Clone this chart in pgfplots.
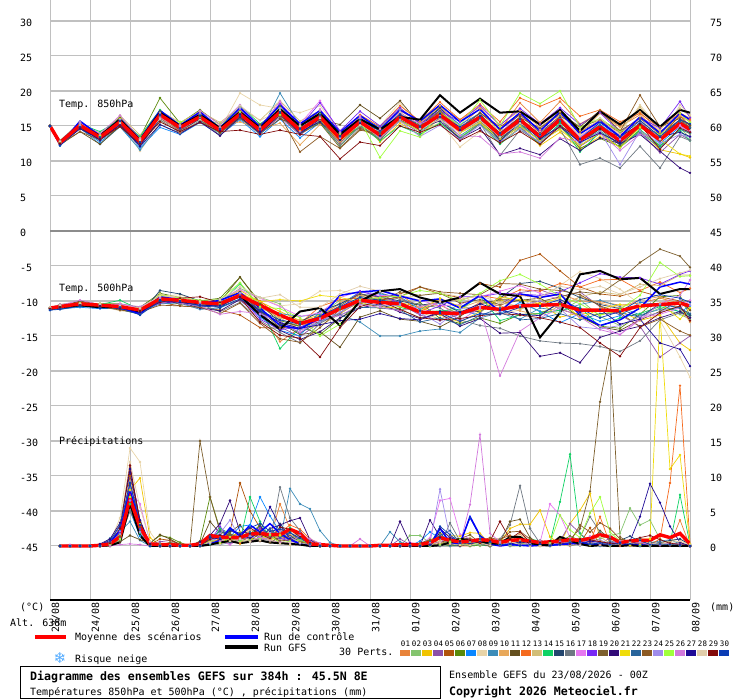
\documentclass[border=0pt]{standalone}
\usepackage{fontspec}
\usepackage{pgfplots}
\usepackage{pgfplotstable}
\pgfplotsset{compat=1.18}
\setmainfont{DejaVu Sans Mono}
\newfontfamily\djs{DejaVu Sans}
\definecolor{p1}{HTML}{E8833A}\definecolor{p2}{HTML}{84C46E}\definecolor{p3}{HTML}{F0C400}
\definecolor{p4}{HTML}{8C50A8}\definecolor{p5}{HTML}{B0540C}\definecolor{p6}{HTML}{5A8A0A}
\definecolor{p7}{HTML}{0A87FF}\definecolor{p8}{HTML}{E8D4A8}\definecolor{p9}{HTML}{3C8CB8}
\definecolor{p10}{HTML}{E8A85A}\definecolor{p11}{HTML}{644F1E}\definecolor{p12}{HTML}{F56A1E}
\definecolor{p13}{HTML}{D2BE78}\definecolor{p14}{HTML}{0FD264}\definecolor{p15}{HTML}{23466E}
\definecolor{p16}{HTML}{6E7882}\definecolor{p17}{HTML}{E678F0}\definecolor{p18}{HTML}{7828F5}
\definecolor{p19}{HTML}{7D5F2D}\definecolor{p20}{HTML}{320A78}\definecolor{p21}{HTML}{F0DC0A}
\definecolor{p22}{HTML}{28649B}\definecolor{p23}{HTML}{8C5A23}\definecolor{p24}{HTML}{A08CEB}
\definecolor{p25}{HTML}{A0FF3C}\definecolor{p26}{HTML}{D278DC}\definecolor{p27}{HTML}{1E0A96}
\definecolor{p28}{HTML}{E1CDAA}\definecolor{p29}{HTML}{820A0A}\definecolor{p30}{HTML}{0A3CB4}
\definecolor{gr}{HTML}{C0C0C0}
% 850 hPa, degC; columns at 0,6,18,30,...,378,384 h
\pgfplotstableread[header=false]{
15 12.4 15 13.5 15.8 12.5 16.2 14.3 16.8 14.9 17.3 14.6 17.6 13.9 15.7 12.5 15.4 14.4 17.2 15.5 17.8 15 17.5 14.4 18.3 15.5 18.5 15.3 16.9 14.9 16.6 14 16.3 15.8
15 12.8 15.3 13.2 15.2 12.2 15.8 14.2 15.8 14 16.4 14.9 16.6 13.8 16.1 13.7 16 14.2 16.6 14.2 15.4 13.4 15.3 13 15 13 14.8 12.2 14.1 12.4 14.9 13.9 14.7 13.3
15.1 12.9 15.5 13.8 16.2 13.2 17.2 15.1 16.9 14.8 17.2 14.7 17.6 15 17.2 14 15.9 12.7 15.4 13.7 16.1 13.2 15.5 12.6 14.8 12.2 14.1 11.7 13.5 12 14.3 11.6 11 10.5
15 12.5 14.6 13.1 15.2 12.4 16 14.2 16 14.3 16.2 13.9 16.3 13.7 15.8 12.6 15.2 13 15.8 14 16.2 14.1 15.7 13.2 14.9 12.4 15 12.1 13.9 12 14.1 11.2 13.8 13
15 12.6 15.2 13.6 15.7 13 16.9 15 16.6 14.7 17.1 15 17.5 15 16.6 13.1 14.8 13.1 15.9 14.5 16.7 14.8 16.9 14.9 16.7 14.4 16.7 14.2 15.8 14 15.8 13.4 16.5 15
15 12.7 15.4 13.9 16.2 13.4 19 15.4 17.3 15.2 17.6 15.1 17.8 14 15.6 12.9 15.3 14.1 16.9 15.1 17.2 14.1 15.8 13.1 15.4 12.8 15.2 11.8 13.2 12.1 14.4 12.1 14.6 13.9
15 12.2 14.7 12.7 14.9 11.9 14.8 13.8 15.5 13.7 15.9 13.5 16 13.3 15.5 13.4 16.3 14.8 17.3 15.7 17.4 15.2 16.8 13.5 15 13 15.7 13.5 15.2 13.3 15.4 12.5 14.9 14.1
15 12.9 15.6 14 15.9 11.4 15.5 14.9 16 14.5 19.7 18 17.5 16.9 17.9 14.3 16.3 15 18.4 14.1 15.5 12 14.2 12.9 15.4 13.8 16.5 13.6 15.4 14 18 14.6 16.8 16.2
15 12.2 14.7 12.4 14.9 11.6 15.2 14 15.6 14 16.2 14.1 19.7 15.1 16.4 13.7 15.1 13.2 15.8 14.3 15.9 13.6 15.5 12.8 15.2 12.9 15.2 12.6 14.3 12.3 14.1 11.9 14.5 14
15 12.7 15.3 13.2 15.5 12.9 16.3 14.6 16.7 14.9 15.6 14.5 15.4 12.3 15.2 13.5 16.4 14.6 17.5 15.4 17.9 15.9 17.7 15.2 17.2 14.8 17 13.9 16.8 14.8 17 14.2 16.5 15.6
15 12.3 14.2 12.4 15 12.9 17.1 15.2 16.5 14.1 16.3 13.9 16 15 15.9 15.2 18 16.1 18.6 15.2 17.6 14.6 15.9 14 16.3 13.1 15.6 12.5 14.6 12.3 14.8 13.3 15.9 15.1
15 12.5 15 13.3 15.8 13 16.3 14.8 16.8 14.7 16.9 14.3 16.9 14.7 16.5 13.8 16.6 14.9 17.9 15.7 18.4 15.9 18.1 15.6 19 17.8 19 16.4 17.3 15.6 16.8 14.7 16.9 16
15 12.8 15.2 13.5 16.5 13.7 17.2 15.5 17.1 15.5 17.7 15.8 18.6 15.7 17.2 13.9 16.2 13.8 16 14.9 16.4 14.2 16.6 14.3 15.8 14.5 16.7 14.4 15.7 14.4 17.7 14.5 17.5 16.4
15 12.6 15.3 14.2 15.9 13.5 17.3 14.9 16.5 14.8 17.9 15.3 17.3 14.1 15.5 12.2 15.1 12.9 15 13.8 15.4 13.3 15.3 12.4 14.7 12.4 15.4 11.3 14.1 11.9 14.5 12.2 14.4 12.9
15 12.9 15.4 13.7 16 12.9 17.1 14.7 16.3 14.2 17 15 18.1 14.5 16.9 13.6 15.9 14.2 16.9 14.9 17.6 14.7 16.8 13.2 15.6 13.2 16.3 12.7 14.6 12.9 15.4 13.2 15.7 14.7
15 12.4 14.8 13.1 15.2 12.3 15.9 14.1 15.8 13.7 16.1 13.8 16.7 14 15.7 12.2 14.9 13.4 16.2 14.6 16.3 12.9 15.4 10.8 14.4 12.7 14.6 9.5 10.4 9 12.1 9 13.5 12.9
15 12.5 15 13.4 15.9 12.6 16.7 15 16.6 14.8 16.8 14.5 18.3 15.3 18.6 14.1 16.1 14.5 17 14.7 17.3 14.9 16.4 14 16.7 14.2 16.2 13.4 15.7 13.1 15.5 13.1 15.1 14.2
15 12.7 15.5 13.4 15.7 13.1 16.4 14.5 16.2 14.3 17.4 14.7 18.1 14.9 18.3 14.3 17.1 15 17.6 15.3 17.2 15.6 17.9 15.1 17.5 15.3 17.6 15.2 16.9 14.1 16.2 14.7 18.5 16.2
15 12.4 14.9 12.9 15.3 12.7 16.4 14.4 15.9 14 16.1 14.1 16.5 13.9 15.4 11.9 14.6 13.5 16.6 14.8 17.2 14.5 16.4 14 16.2 14.7 16.8 14.9 17.2 14.3 16.1 13.8 15.9 14.8
15 12.3 14.6 13.1 15.1 12.1 15.2 13.9 15.6 13.6 16.3 14 16.6 14.2 15.6 13 15.2 13.9 16.2 14.8 15.7 13.2 14.7 10.9 11.8 10.9 13.2 11.5 13.3 12.5 13.8 11.4 9 8.3
15 12.6 15.1 13.7 16 13.3 16.9 15.2 16.7 14.7 16.8 14.6 16.9 14.4 15.9 12.8 15.3 13.3 15.7 14.3 16.5 14 15.5 13.1 15 12.9 14.5 12.2 14 11.9 14.8 13.1 11 10.7
15 12.5 14.9 13.5 15.6 12.7 16.5 14.7 16.4 14.5 16.6 14.3 16.7 14.9 16.2 14 15.7 14 16.4 14.7 16.7 14.3 16 13.5 15.9 13.7 15.7 13 15.1 12.5 15.6 12.9 15.6 14.8
15 12.4 14.2 13 14.9 12.5 16.1 14 16.2 14.1 16.4 15.2 16.5 11.3 13.5 11.8 14.4 13.9 16.4 14.9 17 14.6 16.9 14.5 16.6 14 16.4 14.8 15.9 14.2 19.4 14.9 16.1 15.2
15 12.7 15.3 13.7 15.9 13.2 16.8 15.1 16.8 14.8 17.5 14.8 17.5 15.2 17.2 13.4 15.5 13.3 15.7 13.5 15.1 13.1 15.1 12.7 14.6 12.7 15.1 12.5 14.2 9.5 14.3 12.5 13.8 13.4
15 12.6 15.4 13.6 15.4 13 16.2 15.6 16.1 15.3 17 14.9 16.6 15 16.7 13.9 15.8 10.5 14.3 13.4 16.9 15.1 18.7 15 19.7 18.2 20 14.8 16.1 14.2 15.2 13.7 16.8 15.5
15 12.8 15.4 13.9 16.5 13.2 16.2 14.7 17.2 15.2 18 14.9 18.5 14.2 17.4 14.1 16.4 13.4 16.8 15.3 16.4 13.6 13.5 11 11.3 10.4 13.3 12.8 14 11.5 13.8 13.2 14.9 14.2
15 12.3 14.8 13 15.3 12.2 16 14.1 16 14.4 16.7 14.2 16.9 13.9 16 13 15.4 13.6 16.6 14.4 16.8 14.4 16.4 12.9 15.5 13.2 14.9 12.7 14 12.6 15.3 13.5 14.1 13.5
15 12.8 15 13.3 15.4 13 16 14.1 15.9 14.7 17.9 15.8 17.2 15 16.1 13.3 15.1 14.3 16.9 14.6 15.9 14.1 15.8 13.4 15.4 13.8 16.2 13.7 16.1 13.7 16.4 13.1 18 16.6
15 12.5 14.8 13.2 14.9 12.5 15.6 14.2 15.5 14.2 14.4 13.8 14.4 13.8 13.5 10.3 12.7 12.2 15 14.1 15.2 12.9 14.3 12.6 14.2 12.4 15 13.2 14.6 13.5 15.2 11.7 14.7 14.1
15 12.2 14.9 13.4 15.7 12.7 16.6 14.7 16.5 14.6 16.4 14.6 17 14.6 16.6 13.5 15.9 14.3 16.7 14.9 16.3 14.9 16.4 14 16 13.8 16.2 13.2 15.5 13.4 15.8 13.5 15.9 15.3
15 12.3 15.7 13.6 16 13.1 17.2 15.1 17 14.7 17.6 14.9 18 15.3 17.2 14.1 16.5 14.5 17.3 15.7 18 15.6 17.4 14.5 16.9 14.3 17 13.9 15.7 13.5 16.3 14 16.8 15.9
15 12.7 15.1 13.6 15.9 13 16.9 15 16.6 14.7 17 14.7 17.4 15 16.8 13.8 16 14.5 16.3 15.9 19.4 16.9 18.9 16.9 17.1 15.2 17.3 14.3 17.1 15.2 17.3 14.9 17.3 16.9
15 12.6 15.1 13.4 15.6 12.8 16.6 14.8 16.3 14.4 16.7 14.4 17 14.4 16.3 13.2 15.6 13.7 16.3 14.7 16.6 14.4 16.3 13.7 15.9 13.5 15.9 13 14.9 12.9 15.1 13 15.4 14.5
}\rawA
% 500 hPa, degC; columns at 0,6,18,30,...,378,384 h
\pgfplotstableread[header=false]{
-11.2 -10.6 -10.2 -10.4 -10.5 -11.8 -9.4 -10 -10.3 -10.6 -9 -11.6 -15.8 -13.9 -12.1 -10.4 -9.2 -9.4 -9.1 -11 -10.6 -11.9 -10.2 -10.7 -9.2 -9.5 -9 -10 -10.1 -10.6 -10.3 -9.6 -10.3 -11.3
-11 -10.7 -10.4 -10.8 -10.7 -11.5 -10 -10.2 -10.5 -10.1 -8.2 -9.5 -10.4 -14 -11.9 -9.9 -9.5 -10.5 -11.2 -12.4 -11.8 -10.5 -11.7 -9.3 -10 -11.5 -11.6 -9.8 -12.2 -13.5 -12.2 -11 -11.9 -12.6
-11.1 -10.8 -10.4 -10.5 -10.9 -11 -9.2 -9.5 -9.9 -10 -8.5 -10.1 -11.5 -12.8 -12 -11.3 -10.4 -9.6 -10.2 -10.9 -12 -13 -11.5 -9.8 -11.1 -10.2 -12.3 -11.7 -12 -11.4 -12.8 -12 -16 -17
-11 -10.9 -10.5 -10.6 -10.7 -11.3 -9.7 -10.1 -10.6 -10.8 -9.9 -12.2 -13.7 -15.1 -13 -10.8 -9.9 -9.9 -10.5 -12 -12.8 -11.9 -11.4 -10.5 -8.8 -8.4 -9.4 -8.7 -10.8 -12 -13.6 -18 -16 -15
-11 -10.9 -10.6 -10.9 -11.1 -11.4 -10.2 -10.7 -10.9 -11.3 -12 -13.8 -13.9 -13.4 -13 -11.8 -10 -9.5 -9 -8 -9 -9.5 -7.5 -8 -4.2 -3.3 -5.7 -8 -9 -9.3 -8.6 -9.4 -10 -10
-11 -10.5 -10.2 -10.4 -10.4 -10.9 -8.9 -9.5 -10 -9.6 -6.6 -10.2 -12.8 -13.6 -14.8 -12.5 -10.4 -10.7 -11.4 -10.2 -12.5 -13.2 -12.4 -13.2 -11.9 -11.8 -10.4 -12.3 -13.6 -13.9 -11.9 -9.4 -9.2 -12.1
-11.3 -11.1 -10.9 -11.1 -11 -10.9 -9.4 -10.3 -9.9 -10.8 -9.3 -12.3 -14.2 -15 -11.4 -10.5 -8.7 -9 -9.4 -11.2 -10.3 -11.4 -12 -11.8 -10.2 -11.5 -13.1 -11.8 -12.9 -12.1 -10.2 -10.5 -11.6 -10.7
-11 -10.8 -10.6 -10.7 -11.4 -11.7 -9.3 -9.1 -10 -10.2 -8.9 -9.5 -10.7 -10.4 -8.6 -8.5 -9.1 -9.9 -9.6 -9.2 -8.8 -9.4 -10.3 -11.8 -11.3 -9.7 -7.8 -5.8 -6.8 -8.3 -10.5 -12.8 -18 -20.9
-11.2 -11.2 -10.8 -10.9 -11.1 -11.7 -10.4 -10.3 -11.2 -11 -9.8 -11.1 -11.8 -12.2 -11.9 -12 -13 -15 -15 -14.3 -14 -14.5 -12.4 -11.7 -12.6 -11 -11.4 -10.5 -9.9 -10.8 -12 -11.2 -11 -12.1
-11 -10.7 -10.5 -10.6 -10.6 -11.4 -9.8 -10.3 -10.3 -10.5 -9.3 -10.9 -12.4 -12.7 -12.4 -10.2 -9.1 -10.6 -11.4 -10.9 -9.8 -11 -10 -10.7 -11.4 -12.1 -10.7 -9.4 -10.3 -11 -9.8 -9.4 -11.1 -13
-11 -10.8 -10 -10.5 -10.8 -11.7 -9.5 -10.5 -9.9 -10.1 -6.6 -10.4 -13.1 -14.8 -14.4 -16.6 -12.3 -11.4 -12.6 -12.9 -13.7 -12.2 -10.4 -9.8 -9.9 -9.6 -11.2 -12 -13.7 -14.2 -12.7 -11.5 -9.9 -11.3
-11.1 -10.7 -10.3 -10.7 -11 -11.3 -9.8 -9.9 -10.4 -10.1 -9.2 -10 -12.3 -13.2 -10.8 -9.8 -9.6 -9.8 -9.5 -11.5 -10.1 -9.8 -9.2 -9.7 -8.4 -8.6 -7.5 -8 -7 -6.9 -8.5 -7.3 -8.8 -8.2
-10.9 -10.6 -10.3 -10.4 -10.5 -11.5 -9 -9.7 -10.2 -10.7 -9.8 -11.8 -12.4 -14.1 -13.5 -11.9 -9.7 -9.5 -10.4 -11.6 -12.6 -11.3 -11.5 -10.1 -11.2 -9.9 -11 -9.4 -8.7 -9.1 -7.6 -7.8 -6.3 -6.3
-11 -10.7 -10.6 -10.5 -9.9 -11.2 -9.9 -9.7 -10.6 -10.4 -7.5 -10.8 -16.8 -13.8 -13.1 -11 -10.2 -9.7 -10.9 -11.6 -11.4 -11.2 -9.3 -12.8 -12 -11.8 -11.3 -10.9 -13.7 -12.4 -11.8 -10.8 -11.5 -12.1
-11.3 -10.9 -10.6 -10.8 -11.2 -11.9 -8.5 -9 -10 -11 -8.7 -11.5 -13.4 -13 -11.5 -10.4 -9 -9.4 -10 -10.6 -10.2 -11.6 -11.5 -9.6 -7.5 -7.2 -8.2 -9.5 -10.5 -11.1 -12.3 -10.4 -11 -12
-11.1 -10.9 -10.5 -10.8 -11.1 -11.2 -9.7 -10.4 -10.5 -11.5 -10.2 -12.8 -14.5 -16 -13.2 -11.7 -9.4 -8.8 -9.8 -10.5 -11 -12.7 -13.5 -13.9 -15 -15.7 -16 -16.1 -16.5 -17.2 -15.7 -12.7 -11.7 -12.3
-11 -10.5 -10.3 -10.6 -10.4 -11 -9.4 -9.7 -10.2 -9.7 -8.4 -9.6 -10.8 -12.2 -11.7 -9.5 -8.6 -9.2 -9.3 -9.9 -10.7 -10.5 -9.4 -8.6 -7.8 -8.9 -9.8 -11.6 -13.6 -14.8 -12.4 -11.9 -11 -9.9
-11.1 -10.8 -10.4 -10.7 -10.9 -11.5 -10.3 -10.1 -10.3 -9.9 -9.3 -12.6 -14.1 -13.7 -12.7 -11.2 -8.6 -9.4 -10.2 -11.8 -10.7 -9.4 -9.4 -8.9 -9 -9.2 -8.7 -7.4 -6.1 -6.6 -6.7 -7.6 -6.2 -5.7
-11 -10.7 -10.5 -10.6 -10.8 -11.4 -9.9 -10.2 -10.6 -10.3 -9 -11.3 -13.8 -13.1 -12.2 -10.7 -8.9 -10 -8.7 -9.2 -8.9 -10.3 -9.8 -10.5 -9.9 -10.1 -9.4 -8.7 -9 -7 -4.5 -2.6 -3.6 -5.2
-11 -10.8 -10.7 -10.9 -10.9 -11.6 -10.1 -10.2 -11 -11.4 -9.8 -11.6 -14.2 -15.5 -14.4 -12.4 -11 -10.4 -11.6 -12.5 -11.8 -13.6 -12.5 -14.6 -14.5 -17.9 -17.4 -18.8 -15.2 -14.3 -13.6 -12.4 -11.5 -12.4
-11 -10.9 -10.4 -10.7 -10.8 -11 -9.6 -9.8 -10.1 -10.4 -8.9 -10.1 -9.8 -10 -9.2 -9.5 -10.1 -11.1 -10.8 -11.4 -9.6 -10.8 -11.4 -9.5 -9.8 -10.4 -9.6 -12.5 -11.1 -10.5 -11 -10.3 -12.6 -11
-11.2 -11.1 -10.7 -10.7 -11.2 -11.9 -9.9 -10.2 -10.8 -10.6 -9.4 -11.8 -12.9 -14.6 -12.9 -12 -10.9 -11 -11.3 -13 -12.4 -13.4 -12.1 -11 -12.7 -12.5 -11.8 -12.7 -11.8 -11.7 -12.3 -10.5 -11 -11.8
-11 -10.9 -10.7 -10.8 -11.3 -11.6 -10.6 -10.7 -10.9 -11.8 -10.3 -13.2 -15.4 -15.9 -13.8 -11.2 -10.3 -9.9 -9.4 -8 -8.7 -8.9 -9.1 -7.5 -7.6 -8.3 -8.5 -9.1 -10.7 -11.7 -13.7 -12.6 -14.3 -14.9
-11 -10.6 -10.5 -10.6 -10.8 -11.2 -9.6 -10.1 -10.5 -10 -8.9 -11.9 -13 -14.2 -13 -11.6 -10.1 -10.7 -10.6 -11.7 -13.3 -11.1 -10.8 -11.4 -10.6 -10 -11.1 -13.7 -14 -13.5 -12.2 -11.7 -9.9 -10.6
-11.1 -10.7 -10.3 -10.4 -10.7 -11.4 -9.2 -9.5 -9.9 -9.8 -7.4 -10.8 -11.1 -12.4 -15 -13.3 -9.8 -9.5 -9.3 -8.5 -8.9 -10 -8.9 -7.1 -6.2 -7.6 -9.3 -10.4 -12 -11.2 -9.2 -4.5 -6.5 -6.4
-11 -10.6 -9.9 -10.5 -10.5 -10.8 -9.5 -10.3 -10.7 -11.9 -11.5 -11.8 -13 -14.5 -12.6 -12.1 -10.5 -10.9 -11.4 -10.8 -10.2 -12.8 -11 -20.7 -14.3 -12.4 -11 -12.3 -14.1 -14.8 -12.7 -10.4 -9.2 -7
-11.1 -10.9 -10.5 -10.7 -11.1 -11.6 -9.9 -10.2 -10.6 -10.7 -9.4 -11.4 -13.1 -13.9 -13.4 -12.8 -12.6 -11.8 -12.5 -12.7 -11.5 -11.6 -10.4 -11.3 -11.9 -12.1 -10.1 -11.6 -11.2 -13.3 -12.6 -16 -16.9 -19.3
-10.9 -10.6 -10.4 -10.4 -10.7 -11 -9.3 -9.4 -10.1 -9.9 -7.9 -9.6 -9.1 -10.9 -10.9 -9 -7.9 -8.6 -9.1 -9.9 -10.1 -9.8 -9.2 -10.3 -10.7 -9.4 -7.9 -8.4 -7.9 -9 -8 -6.8 -6 -5.6
-11.1 -10.9 -10.6 -10.8 -11 -11.4 -10.2 -9.6 -9.4 -10.2 -9.5 -13 -14.9 -15.3 -18 -13.8 -10.8 -10 -11.2 -12.4 -12.7 -12.5 -12.1 -11.8 -12 -12.4 -13 -13.8 -16 -17.9 -13.8 -11.7 -10.7 -12.8
-11.3 -11.2 -10.7 -11 -10.9 -12 -10 -10 -10.7 -10.9 -9.7 -11.4 -12.7 -13.3 -12.2 -10.8 -9.5 -9.9 -10.2 -11.4 -11.7 -12.9 -11.8 -11.9 -10.9 -10.7 -9.8 -11.1 -12.4 -11.5 -9.8 -9.1 -9.6 -10.2
-11 -10.8 -10.5 -10.7 -10.9 -11.8 -9.4 -9.8 -10.4 -9.9 -8.8 -11 -13.5 -14 -12.4 -9.2 -8.7 -8.5 -9.3 -10 -9.7 -11 -9.2 -11.5 -9 -9.5 -9 -12 -13.5 -12.7 -11 -8 -7.3 -7.6
-11.1 -10.9 -10.6 -10.9 -10.8 -11.5 -9.6 -10 -10.3 -10.3 -9.2 -12 -14 -11.5 -11 -13.5 -10 -8.6 -8.3 -9.5 -10.2 -9.5 -7.4 -9 -9.3 -15.2 -11.7 -6.2 -5.7 -6.9 -6.7 -9 -8.3 -8.3
-11 -10.8 -10.4 -10.6 -10.8 -11.3 -9.7 -9.9 -10.2 -10.4 -9.2 -10.6 -12 -13.2 -12.5 -11.1 -9.9 -10.2 -10.4 -11.6 -11.7 -11.8 -10.9 -11.2 -10.7 -10.6 -10.5 -11.3 -11.3 -11.4 -10.7 -10.5 -10.3 -10.7
}\rawB
% precipitation, mm; 65 columns, every 6 h
\pgfplotstableread[header=false]{
0 0 0 0 0  0 0.2 1.3 5 2.5  0.2 0.1 0 0 0  0.2 0.5 1 0.8 1.2  2 1.5 1 6 2.5  0.8 0 0 0 0  0 0 0 0 0  0 0 0 0 0  0 0 0 0.1 0  0.2 0 0.1 0.3 0  0 0.2 0 0.3 0.5  0 0.2 0.4 0 0  0 0.4 0.2 3.7 0
0 0 0 0 0  0 0 0.8 7 2.8  0.1 0.3 0 0 0  0 0.4 0.3 1 0.8  1.5 2 1.2 1.6 0.8  0.5 1 0.3 0 0  0 0 0 0 0  0 1.5 1.5 0.4 0.1  0.2 0 0.3 0 0.2  0.5 0 0 0.2 0.3  0 0.3 0.8 0.9 0.7  1 1.5 1.8 5.4 3  3.7 1 0.3 0.2 0
0 0 0 0 0  0 0.3 1.5 8 9.7  1.2 0 0.1 0 0  0 1 0.4 0.8 0.3  0.7 1.1 1.4 0.5 0.2  0.3 0.2 0 0 0  0 0 0 0 0  0 0 0.3 0.8 1.8  1.5 1.4 1.9 1.8 0.3  0.5 2.5 3.1 3.1 5.1  1.3 0.3 3.2 5.1 7.5  0.8 0.1 0.2 0.4 0  0.2 0.3 0.1 0.2 0
0 0 0 0 0  0 0.1 1 9 3.2  0.3 0.6 0.8 0.2 0  0.1 0.5 0.2 1.1 1.7  1.3 2.4 0.6 1.2 0.9  2 0.7 0 0 0  0 0 0 0 0  1 0.2 0 0 0.3  0.4 0.3 0 0.3 0.5  0.7 0.2 0.4 0.2 0.6  0.4 0.7 3.2 1.8 0.6  0.2 1.2 0.5 0.3 0.1  0.2 0.3 0.1 0.2 0
0 0 0 0 0  0 0 1.2 10 3.2  0.2 1 0.8 0.3 0  0.4 1 0.7 2 9  5 2.6 1.2 1 1.5  1 0.2 0 0 0  0 0 0 0 0  0 0.1 0 0.7 0.5  0.2 0.4 0.2 0.4 1  1 1.5 0.6 0.4 0.8  0.4 0.2 0.5 0.4 2.6  0.1 0 0.3 0.5 0.2  0.3 0.4 0.2 0.5 0
0 0 0 0 0  0 0 1.6 6 2.3  0.4 1.5 1.2 0.5 0  0.7 7 2.4 1.4 0.8  1.7 3 1 2 2  0.7 0 0 0 0  0 0 0 0 0  0.1 0 0 0.9 0.4  0 0.2 0 0.1 0.3  0.4 0.2 0.2 0.5 0.1  0 0.7 1.4 0.8 0.5  0.1 0 0.2 0.1 0  0 0.1 0.2 0.1 0
0 0 0 0 0  0 0.4 2.2 5 1.4  0 0 0 0 0  0 0.3 1.6 1.3 2.8  3 7 4.3 2 1.5  0.6 0 0 0 0  0 0 0 0 0  0 0 0.7 2 1.1  0.3 0.4 0.8 0.4 0  0.2 0.1 0.4 0.2 0.1  0 0.2 0.4 0.1 0.3  0 0.1 0.4 0.1 0  0 0.2 0.3 0.1 0
0 0 0 0 0  0.1 0.6 4 14 12  2 0 0 0 0  0 0.6 0.3 1 0.5  0.7 1.2 0.8 0.9 0.2  0.6 0.4 0.2 0 0  0 0 0 0 0  0 0 0 0.3 0.7  0.4 0.6 0.3 0.1 0.2  0.9 0.2 0.2 0 0  0.2 0.1 0.1 0.5 0.3  0.3 0.1 0.2 0.3 0.5  0.2 0.4 0.3 0.6 0.1
0 0 0 0 0  0 1.1 2 3.5 0.8  0 0 0 0 0  0 0.4 0.2 0.5 0.9  1.3 2 1.5 0.7 8.2  6 5.3 2.2 0.5 0  0 0 0 0 2  0.6 0 0 0 0  0 0 0.8 1.1 0.3  0.2 0 0.3 0.6 0.2  0.1 0.3 0.1 0.2 0.3  0.5 0.2 0.3 0.4 0.3  0.5 0.7 0.9 0.3 0
0 0 0 0 0  0 0.3 1.2 6 2  0.3 0.2 0.1 0 0  0 0.8 1.4 0.7 1.1  2.3 1.9 0.9 2.5 1.6  1 0.5 0 0 0  0 0 0 0 0  0 0.2 0 0 0.4  1 0.8 0.2 0.7 0.6  0.3 1.1 1.7 0.6 0.5  0.3 0.6 0.7 0.4 0.3  0.2 0.1 0.4 0.6 0.2  0.1 0.3 0.2 0.1 0
0 0 0 0 0  0.2 0.5 0.6 1.5 0.9  0.4 1.6 1 0.2 0  0.3 3.5 1.8 2 3  1.2 0.7 0.5 1.3 1.4  0.6 0.2 0 0 0  0 0 0 0 0  0 0 0.2 0.1 0.5  1 0.4 0.9 0.2 0  0.5 3.5 3.8 1.2 0.3  0.4 0.2 0.6 0.9 0.4  2.2 1 0.6 0.3 0.2  0.1 0.2 0.3 0.1 0
0 0 0 0 0  0 0.2 1.7 7 2.8  0.1 0 0 0 0  0 0.5 1 0.6 0.4  1.6 2.5 1.1 1.9 3  2.4 1 0.2 0 0  0 0 0 0 0  0 0 0.1 0.1 1.5  0.8 0.3 0.5 0.3 0.7  0.9 0.5 0.7 0.2 0.4  0.1 0.3 0.8 1.1 0.5  4.2 0.3 0 0.2 1  0.2 1 9 22.9 0.3
0 0 0 0 0  0 0.4 1.5 8 3.1  0.2 0 0 0 0  0 0.9 0.6 1.4 1.8  1.3 0.8 2.2 1 0.7  0.9 0.2 0 0 0  0 0 0 0 0  0 0 0 0.2 0.7  0.9 0.6 1.2 0.3 0.2  0.4 1.1 0.8 0.4 0.1  0.1 0.3 0.7 0.5 0.9  1.3 0.4 0.2 0.7 1  0.2 0.4 0.7 1 0.2
0 0 0 0 0  0 0.1 1.4 6 1.8  0 0 0 0 0  0.1 0.3 2.5 1.8 0.7  7 3.5 1.2 1.4 2.6  1.2 0.4 0 0 0  0 0 0 0 0  0 0 0 0 0.1  0.5 0.2 0.1 0.2 0  0.3 0.2 0.4 1 0.7  0.5 6.3 13.1 1.8 0.2  0.1 0.1 0.2 0.3 0.1  0.2 0.3 0.4 7.3 0.2
0 0 0 0 0  0 0.5 3 8 2.5  0.1 0.2 0 0 0  0 1.2 1.7 0.5 1  1.5 2.8 1.4 3.2 1.3  0.7 0.2 0 0 0  0 0 0 0 0  0 0 0.1 0.3 1.9  0.2 0.1 0.6 0.3 0  0.2 0.5 0.1 0.3 0.4  0.2 0.5 0.7 0.2 0.3  0.1 0.4 0.8 1.4 0.6  0.3 0.5 0.8 1 0.2
0 0 0 0 0  0 0.2 1.1 5 2  0.1 0 0 0 0  0 0.4 0.8 0.3 1.1  0.6 1.3 0.7 8.4 4  2.2 0.3 0 0 0  0 0 0 0 0  0 0 0 0.3 0  3.3 0.7 0.5 0.3 0  1 3 8.6 2.5 0.4  0.2 0.3 0.4 1.2 4.2  2 0.8 0.2 0.4 0.1  0.2 0.3 0.2 0.1 0
0 0 0 0 0  0 0.2 2 8 6  0.6 0 0 0 0  0 0.9 1.1 0.2 1.6  1 0.7 1.8 1.2 0.6  0.8 0.7 0 0 0  0 0 0 0 0  0 0.5 0.2 1.2 6.5  6.8 1.7 1 0.8 0.3  0 0.4 0.2 0.7 0.5  6 4.4 1.2 0.3 0.5  0.1 0.6 0.2 0.4 0.3  0.2 0.1 0.2 0.3 0
0 0 0 0 0  0 0.3 1.9 6.5 2.4  0.2 0 0 0 0  0 0.7 2.8 1 1.5  0.9 2.6 1.3 1.1 0.7  0.3 0.1 0 0 0  0 0 0 0 0  0 0 0.3 0.4 0.2  0.6 0.5 0.9 0.6 0.3  0.2 0.2 0.4 0.2 0.1  0.3 0.6 0.5 0.3 0.8  0.5 0.2 0.3 0.4 0.2  0.3 0.2 0.4 0.2 0
0 0 0 0 0  0 0.4 1.8 7 2.7  0 0.2 0.5 0.3 0  15 7 2.1 1.4 1.9  1.2 0.7 1.3 2.2 1  0.3 0 0 0 0  0 0 0 0 0  0 0.1 0.4 0.9 0.3  1.3 1 1.6 0.4 0  0.7 1.2 0.3 0.5 0.2  0.6 1 0.9 2.5 7.8  20.6 28 1.3 0.4 0.3  0.5 0.3 0.4 0.2 0
0 0 0 0 0  0.3 1 3.3 10.5 3.6  0.2 0 0 0 0  0.6 1.5 3.2 6.5 2  1.8 1.1 2.5 3 3.6  4 0.9 0 0 0  0 0 0 0 0  3.5 0.4 0 3.7 1.3  0.6 0 0.2 0.5 0.3  0.1 0.2 0.6 0.3 0.2  0.2 0.4 0.5 0.1 0.4  0.3 0.2 0.1 0.3 0.2  0.3 0.2 0.1 0 0
0 0 0 0 0  0 0.3 1.5 8 3.2  0.1 0 0 0 0  0 0.6 0.3 1.3 2  0.9 1.7 0.8 1.5 1.2  0.6 0.4 0 0 0  0 0 0 0 0  0 0 0.2 0.4 0.3  0.5 0.1 0.2 0.7 0.3  0.2 0.1 0.3 0.1 0  0.5 0.3 0.4 0.2 0.1  0.2 0.4 0.2 0.1 1  1 33 11 13 0.3
0 0 0 0 0  0 0.2 1.3 9 3.5  0.1 0 0 0 0  0 1 2.1 1.6 0.8  2 1.3 2.4 1.2 1.9  0.9 0.2 0 0 0  0 0 0 0 0  0 0 0 0.6 1.5  2.2 0.4 0.6 1 0.5  0.2 0.3 0.1 0.4 0.6  0.2 0.3 0.4 0.7 0.2  0.4 0.6 0.3 0.8 1.1  0.5 0.3 0.4 0.2 0
0 0 0 0 0  0 0.1 1.4 7 2.9  0.3 0.1 0 0 0  0.2 1.4 0.9 1.7 1.2  0.6 2 1.6 0.7 0.9  0.5 0.3 0 0 0  0 0 0 0 0  0 0 0.1 0.2 0.4  0.7 0.5 1 0.6 1.2  0.8 2 2.1 1 0.5  0.3 0.4 0.6 3 2  3.3 2.5 1 0.7 0.5  0.2 0.3 0.4 0.2 0
0 0 0 0 0  0 0.5 1.7 6.5 2  0 0 0 0 0  0.3 0.5 1.8 3.7 1.1  1.4 0.9 1.2 2.1 1.3  0.4 0.2 0 0 0  0 0 0 0 0  0 0 0 0.4 8.1  1.2 0.5 0.7 0.2 0.6  0.3 0.1 0.3 0.2 0.8  0.4 0.3 0.5 1.1 0.3  0.9 0.2 0.4 0.3 0.6  0.1 0.2 0.3 0.2 0
0 0 0 0 0  0 0.2 1 7 3.3  0.1 0 0 0 0  0 0.8 0.5 1 0.7  0.9 1.1 1.6 0.4 0.7  0.9 0.3 0 0 0  0 0 0 0 0  0 0 0 0 0.2  0.6 0.9 0.4 0.3 0.4  0.1 0.2 0.5 0.2 0.1  0.4 4.4 2.3 1.2 4.7  7 2 0.7 0.3 0.2  0.1 0.3 0.2 0.1 0
0 0 0.2 0 0  0 0 0.2 0.3 0.2  0 0 0 0 0  0 0.4 0.7 0.2 1  0.6 1.3 0.8 0.5 0.4  1.5 1 0.4 0 0  0 1 0 0 0  0 0 0 0.4 0.5  1.5 0.3 5.9 15.9 1.8  0.6 0.3 0.2 0.4 0.6  0.2 0.5 0.4 0.2 1.4  0.3 0.3 0.7 0.4 0.5  0.2 0.3 0.4 0.2 0
0 0 0 0 0  0.2 0.8 2.8 11 3.7  0.3 0 0 0 0  0.1 1.2 1 2.2 1.6  1.1 2 5.6 2.9 1.1  0.3 0 0 0 0  0 0 0 0 0  0 0 0 0.2 2.5  1.2 0.7 0.3 0.6 0.2  0.1 0.3 0.5 0.7 0.2  0.1 0.4 0.3 0.2 0.7  0.5 0.3 0.5 0.7 4.2  8.9 6.2 2.8 0.5 0
0 0 0 0 0  0 0.6 3 12 5.5  0.7 0 0 0 0  0 0.5 0.2 0.7 1  0.6 0.8 0.9 0.3 0.5  0.4 0.2 0 0 0  0 0 0 0 0  0 0 0 0.1 0.5  0.3 0.2 0.1 0.4 0.1  0.2 0.6 0.2 0.1 0  0.2 0.3 0.2 0.1 0.3  0.4 0.2 0.3 0.5 0.7  0.4 0.3 0.5 0.7 0.2
0 0 0 0 0  0 0.4 2.5 11.5 3.4  0.2 0 0 0 0  0.1 0.9 1.5 1 1.4  2.6 1.7 1.1 2.7 2.4  1.3 0.5 0 0 0  0 0 0 0 0  0 0 0 0.2 1.2  1 0.6 0.8 0.4 0.7  3.5 1 2 0.6 0.5  0.7 0.4 0.3 1 0.9  0.6 0.4 0.3 0.8 1.2  1.5 0.9 0.4 0.2 0
0 0 0 0 0  0 0.7 3 9 3  0 0 0 0 0  0 1.3 1.1 2.3 1.8  2.6 3.2 2.1 2.4 1.9  1.1 0.3 0 0 0  0 0 0 0 0  0 0 0 0.1 2.8  1.6 0.4 4 1.4 0.6  0.2 0.3 0.1 0.2 0.3  0.1 0.2 0.5 0.6 0.3  0.4 0.2 0.4 0.3 0.8  0.2 0.3 0.2 0.1 0
0 0 0 0 0  0 0.5 2.2 8 3  0 0 0 0 0  0 0.3 0.8 2.6 1.4  3 2 3.2 1.8 0.9  0.3 0 0 0 0  0 0 0 0 0  0 0 0 0 2.5  0.5 0.3 4.2 1.5 0.3  0 0.2 0.1 0 0.1  0.1 0.2 0.3 0.5 0.1  0.2 0 0.1 0.2 0.2  0 0 0 0 0
0 0 0 0 0  0 0.1 0.5 6 1.5  0 0 0 0 0  0 0.2 0.5 0.7 0.4  0.6 0.8 0.5 0.4 0.3  0.2 0 0 0 0  0 0 0 0 0  0 0 0 0 0.1  0.5 1 0.9 0.7 0.4  0.3 1.3 1.3 0.4 0.2  0.1 1.3 0.8 0.3 0  0.1 0 0 0.1 0  0 0 0 0 0
0 0 0 0 0  0.1 0.3 1.3 6.8 2.7  0.3 0.2 0.2 0.1 0.1  0.3 1.5 1.3 1.2 1.2  1.7 1.8 1.6 1.6 2.4  1.8 0.3 0.2 0.1 0  0 0 0 0.1 0.1  0.2 0.2 0.2 0.5 1.2  0.8 0.6 0.7 0.9 0.8  0.5 0.8 0.9 0.7 0.5  0.6 0.7 0.9 0.8 1.1  1.6 1.3 0.5 0.7 0.8  0.8 1.6 1.2 1.8 0.3
}\rawC
\pgfplotstabletranspose{\tA}{\rawA}
\pgfplotstabletranspose{\tB}{\rawB}
\pgfplotstabletranspose{\tC}{\rawC}
\newcommand{\Xa}{ifthenelse(\coordindex==0,0,ifthenelse(\coordindex==33,384,12*\coordindex-6))}
\newcommand{\T}[4][10]{\node[anchor=base west,inner sep=0pt,font=\fontsize{#1}{#1}\selectfont] at (#2,{700-(#3)}) {#4};}
\begin{document}
\begin{tikzpicture}[x=1pt,y=1pt]
\path[use as bounding box] (0,0) rectangle (740,700);
\begin{axis}[
  at={(50pt,100pt)},anchor=south west,scale only axis,width=640pt,height=600pt,
  xmin=0,xmax=384,ymin=-52.714,ymax=33,
  axis x line*=bottom,axis y line*=left,
  x axis line style={-,black,line width=1.3pt},y axis line style={draw=none},
  xtick={0,24,...,384},
  xticklabels={23/08,24/08,25/08,26/08,27/08,28/08,29/08,30/08,31/08,01/09,02/09,03/09,04/09,05/09,06/09,07/09,08/09},
  xticklabel style={xshift=6pt,yshift=-2pt,rotate=90,anchor=east,inner sep=0pt,font=\fontsize{10}{10}\selectfont},
  ytick={-45,-40,...,30},
  yticklabel style={anchor=west,inner sep=0pt,xshift=-30pt,yshift=-1.5pt,font=\fontsize{10}{10}\selectfont},
  /pgf/number format/assume math mode=true,
  major tick length=0pt,
  xmajorgrids,ymajorgrids,
  grid style={color=gr,line width=1pt},
  extra y ticks={-40,-30,-20,-10,10,20,30},
  extra y tick labels={},
  extra y tick style={grid style={color=gr,line width=2.2pt}},
  clip=true,
  every axis plot/.append style={forget plot},
]
\draw[color=black!45,line width=2.4pt] (axis cs:0,0) -- (axis cs:384,0);
\pgfplotsinvokeforeach{1,...,30}{
\addplot[color=p#1,line width=0.7pt,mark=*,mark size=0.8pt,mark options={solid}] table[x expr={\Xa},y index=#1]{\tA};
\addplot[color=p#1,line width=0.7pt,mark=*,mark size=0.8pt,mark options={solid}] table[x expr={\Xa},y index=#1]{\tB};
\addplot[color=p#1,line width=0.7pt,mark=*,mark size=0.8pt,mark options={solid},restrict x to domain=6:384] table[x expr={6*\coordindex},y expr={\thisrowno{#1}-45}]{\tC};
}
\addplot[color=blue,line width=1.5pt] table[x expr={\Xa},y index=31]{\tA};
\addplot[color=blue,line width=1.5pt] table[x expr={\Xa},y index=31]{\tB};
\addplot[color=blue,line width=1.5pt,restrict x to domain=6:384] table[x expr={6*\coordindex},y expr={\thisrowno{31}-45}]{\tC};
\addplot[color=black,line width=2pt] table[x expr={\Xa},y index=32]{\tA};
\addplot[color=black,line width=2pt] table[x expr={\Xa},y index=32]{\tB};
\addplot[color=black,line width=2pt,restrict x to domain=6:384] table[x expr={6*\coordindex},y expr={\thisrowno{32}-45}]{\tC};
\addplot[color=red,line width=3.4pt] table[x expr={\Xa},y index=33]{\tA};
\addplot[color=red,line width=3.4pt] table[x expr={\Xa},y index=33]{\tB};
\addplot[color=red,line width=3.4pt,restrict x to domain=6:384] table[x expr={6*\coordindex},y expr={\thisrowno{33}-45}]{\tC};
\end{axis}
\begin{axis}[
  at={(50pt,100pt)},anchor=south west,scale only axis,width=640pt,height=600pt,
  xmin=0,xmax=384,ymin=-7.714,ymax=78,
  hide x axis,axis y line*=right,y axis line style={draw=none},
  ytick={0,5,...,75},major tick length=0pt,
  yticklabel style={anchor=west,inner sep=0pt,xshift=20pt,yshift=-1.5pt,font=\fontsize{10}{10}\selectfont},
  /pgf/number format/assume math mode=true,
]
\end{axis}
\T{59}{107.5}{Temp. 850hPa}
\T{59}{291.5}{Temp. 500hPa}
\T{59}{444.5}{Précipitations}
\T{20}{610.5}{(°C)}
\T{710}{610.5}{(mm)}
\T{10}{626.5}{Alt. 638m}
\fill[red] (35,{700-639}) rectangle (66,{700-635});
\T{75}{640.5}{Moyenne des scénarios}
\fill[blue] (225,{700-639}) rectangle (258,{700-635});
\T{264}{640.5}{Run de contrôle}
\fill[black] (225,{700-649}) rectangle (258,{700-645});
\T{264}{651.5}{Run GFS}
\T{75}{662.5}{Risque neige}
\node[anchor=center,inner sep=0pt,text=p7!70!white,font=\djs\fontsize{15}{15}\selectfont] at (60,{700-658}) {❄};
\T{339}{655.5}{30 Perts.}
\foreach \i in {1,...,30}{
  \fill[p\i] ({400+11*(\i-1)},{700-656}) rectangle ({400+11*\i-0.6},{700-650});
  \node[anchor=base,inner sep=0pt,font=\fontsize{7.5}{7.5}\selectfont] at ({405.5+11*(\i-1)},{700-647}) {\ifnum\i<10 0\fi\i};
}
\draw[black,line width=1pt] (20.5,{700-667}) rectangle (440.5,{700-699});
\T[11.6]{30}{681}{\bfseries Diagramme des ensembles GEFS sur 384h : 45.5N 8E}
\T{30}{695.5}{Températures 850hPa et 500hPa (°C) , précipitations (mm)}
\T{449}{678.5}{Ensemble GEFS du 23/08/2026 - 00Z}
\T[11.6]{449}{696}{\bfseries Copyright 2026 Meteociel.fr}
\end{tikzpicture}
\end{document}
